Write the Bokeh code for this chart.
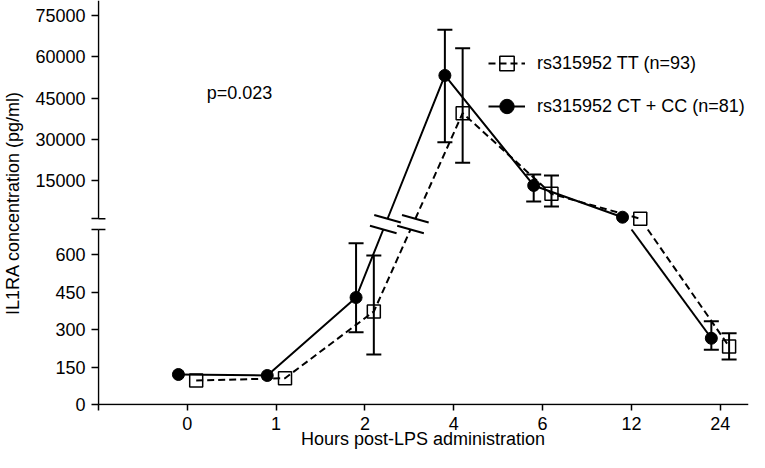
from bokeh.plotting import figure
from bokeh.models import (Range1d, FixedTicker, Whisker, TeeHead, ColumnDataSource,
                          Legend, LegendItem, Label)
from bokeh.embed import file_html
from bokeh.resources import INLINE

# ---------------- data ----------------
hours = ["0", "1", "2", "4", "6", "12", "24"]

ctcc_mean = [120, 116, 428, 53200, 13200, 1650, 265]
ctcc_err_idx = [2, 3, 4, 6]
ctcc_lower = [289, 28900, 7360, 219]
ctcc_upper = [645, 69800, 17180, 333]

tt_mean = [96, 105, 372, 39500, 10160, 1100, 232]
tt_err_idx = [2, 3, 4, 6]
tt_lower = [200, 21430, 5545, 180]
tt_upper = [596, 63100, 16820, 285]

lower_ticks = [0, 150, 300, 450, 600]
upper_ticks = [15000, 30000, 45000, 60000, 75000]

# ---------------- broken-axis scale ----------------
LOW_MAX = 700.0        # top of the lower segment
UP_BASE = 731.0        # plot coordinate of zero on the upper scale
UP_SCALE = 0.011       # plot units per pg/ml on the upper scale
UP_MIN = 743.0         # where the upper segment starts
PX_X = 89.5            # px per category step
X0 = -1 - 1 / PX_X
X1 = X0 + 656 / PX_X
Y0 = -4.0
Y1 = Y0 + 405 * 4

def yplot(v):
    return float(v) if v <= LOW_MAX else UP_BASE + v * UP_SCALE

OFF_C = -0.1
OFF_T = 0.1
FONT = "Liberation Sans"
FS = "18px"

def split_line(xs, ys):
    segs, marks = [], []
    cx, cy = [xs[0]], [ys[0]]
    for i in range(1, len(xs)):
        x0, y0, x1, y1 = xs[i - 1], ys[i - 1], xs[i], ys[i]
        lo0, lo1 = y0 <= LOW_MAX, y1 <= LOW_MAX
        if lo0 == lo1:
            cx.append(x1); cy.append(y1)
        else:
            ya, yb = (LOW_MAX, UP_MIN) if lo0 else (UP_MIN, LOW_MAX)
            xa = x0 + (ya - y0) / (y1 - y0) * (x1 - x0)
            xb = x0 + (yb - y0) / (y1 - y0) * (x1 - x0)
            cx.append(xa); cy.append(ya)
            segs.append((cx, cy))
            if lo0:
                marks.append((xa, ya)); marks.append((xb, yb))
            cx, cy = [xb, x1], [yb, y1]
    segs.append((cx, cy))
    return segs, marks

p = figure(width=749, height=452, output_backend="svg", toolbar_location=None,
           title=None,
           x_range=Range1d(X0, X1), y_range=Range1d(Y0, Y1),
           min_border_left=92, min_border_right=1, min_border_top=0, min_border_bottom=47)
p.grid.visible = False
p.outline_line_color = None
p.background_fill_color = "white"

idx = list(range(len(hours)))

c_x = [i + OFF_C for i in idx]
c_y = [yplot(v) for v in ctcc_mean]
t_x = [i + OFF_T for i in idx]
t_y = [yplot(v) for v in tt_mean]

c_segs, c_marks = split_line(c_x, c_y)
t_segs, t_marks = split_line(t_x, t_y)

t_line = p.multi_line([s[0] for s in t_segs], [s[1] for s in t_segs],
                      line_color="black", line_width=2, line_dash="7 4")
c_line = p.multi_line([s[0] for s in c_segs], [s[1] for s in c_segs],
                      line_color="black", line_width=2)

# break marks on the lines
mk = c_marks + t_marks
DX, DY = 0.15, 15
p.segment([m[0] - DX for m in mk], [m[1] + DY for m in mk],
          [m[0] + DX for m in mk], [m[1] - DY for m in mk],
          line_color="black", line_width=2)

# error bars
for eidx, lo, up, off in [(ctcc_err_idx, ctcc_lower, ctcc_upper, OFF_C),
                          (tt_err_idx, tt_lower, tt_upper, OFF_T)]:
    src = ColumnDataSource(dict(base=[i + off for i in eidx],
                                lower=[yplot(v) for v in lo],
                                upper=[yplot(v) for v in up]))
    w = Whisker(source=src, base="base", lower="lower", upper="upper",
                dimension="height", line_color="black", line_width=2,
                upper_head=TeeHead(size=15, line_width=2, line_color="black"),
                lower_head=TeeHead(size=15, line_width=2, line_color="black"))
    p.add_layout(w)

t_sc = p.scatter(t_x, t_y, marker="square", size=13, fill_color=None,
                 line_color="black", line_width=1.5)
c_sc = p.scatter(c_x, c_y, marker="circle", size=12, fill_color="black",
                 line_color="black")

# axis lines (with a gap at the break)
p.segment([-1, -1, -1], [0, UP_MIN, 0], [-1, -1, X1], [LOW_MAX, Y1, 0],
          line_color="black", line_width=1.5)
# inner halves of the axis break ticks
p.segment([-1, -1], [LOW_MAX, UP_MIN], [-1 + 7 / PX_X, -1 + 7 / PX_X], [LOW_MAX, UP_MIN],
          line_color="black", line_width=1.5)

# x axis
xa = p.xaxis[0]
xa.ticker = FixedTicker(ticks=[-1] + idx)
ov = {-1: ""}
for i, h in zip(idx, hours):
    ov[i] = h
xa.major_label_overrides = ov
xa.axis_line_color = None
xa.major_tick_out = 5
xa.major_tick_in = 1
xa.major_tick_line_width = 1.5
xa.minor_tick_line_color = None
xa.major_label_text_font = FONT
xa.major_label_text_font_size = FS
xa.major_label_text_color = "black"
xa.major_label_standoff = 6
xa.axis_label = "Hours post-LPS administration"
xa.axis_label_text_font = FONT
xa.axis_label_text_font_size = FS
xa.axis_label_text_font_style = "normal"
xa.axis_label_text_color = "black"
xa.axis_label_standoff = -4

# y axis
ya = p.yaxis[0]
yt = [yplot(v) for v in lower_ticks] + [LOW_MAX, UP_MIN] + [yplot(v) for v in upper_ticks]
ya.ticker = FixedTicker(ticks=yt)
yov = {yplot(v): str(v) for v in lower_ticks + upper_ticks}
yov[LOW_MAX] = ""
yov[UP_MIN] = ""
ya.major_label_overrides = yov
ya.axis_line_color = None
ya.major_tick_out = 6
ya.major_tick_in = 1
ya.major_tick_line_width = 1.5
ya.minor_tick_line_color = None
ya.major_label_text_font = FONT
ya.major_label_text_font_size = FS
ya.major_label_text_color = "black"
ya.major_label_standoff = 6
ya.axis_label = "IL1RA concentration (pg/ml)"
ya.axis_label_text_font = FONT
ya.axis_label_text_font_size = FS
ya.axis_label_text_font_style = "normal"
ya.axis_label_text_color = "black"
ya.axis_label_standoff = 9

# p-value annotation
p.add_layout(Label(x=0.218, y=1247, text="p=0.023", text_font=FONT,
                   text_font_size=FS, text_baseline="middle", text_color="black"))

legend = Legend(items=[LegendItem(label="rs315952 TT (n=93)", renderers=[t_line, t_sc]),
                       LegendItem(label="rs315952 CT + CC (n=81)", renderers=[c_line, c_sc])],
                location=(391, 281), orientation="vertical",
                glyph_width=37, glyph_height=36, label_standoff=12, spacing=7,
                padding=0, margin=0, border_line_color=None, background_fill_alpha=0,
                label_text_font=FONT, label_text_font_size=FS, label_text_color="black")
p.add_layout(legend)

open("out.html", "w").write(file_html(p, INLINE))
